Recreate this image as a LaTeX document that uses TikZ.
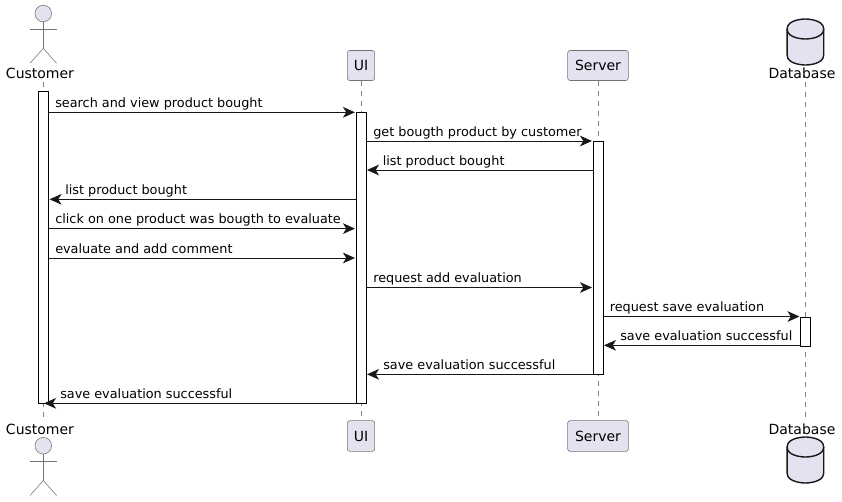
\documentclass[tikz,border=0pt]{standalone}
\usepackage{fontspec}
\setmainfont{DejaVu Sans}
\usetikzlibrary{arrows.meta}
\definecolor{pfill}{HTML}{E2E2F0}
\definecolor{pline}{HTML}{181818}
\tikzset{
  x=0.75pt,y=-0.75pt,
  txt/.style={inner sep=0pt,font=\fontsize{9.62pt}{12pt}\selectfont,text=black},
  msgtext/.style={txt,anchor=base west},
  msg/.style={draw=pline,line width=0.75pt,-{Stealth[length=9pt,width=8pt,inset=2.5pt,fill=pline]},shorten >=0.4pt},
  partbox/.style={draw=pline!60,fill=pfill,line width=0.45pt,rounded corners=1.8pt,minimum height=22.5pt,inner sep=0pt,font=\fontsize{10.5pt}{12pt}\selectfont},
  partlabel/.style={inner sep=0pt,anchor=base,font=\fontsize{10.5pt}{12pt}\selectfont},
  bar/.style={draw=black,fill=white,line width=0.75pt,minimum width=7.5pt,inner sep=0pt,anchor=north},
  lifeline/.style={draw=pline!55,line width=0.4pt,dash pattern=on 3.75pt off 3.75pt},
  actorline/.style={draw=pline!60,line width=0.42pt},
  actorhead/.style={draw=pline!60,fill=pfill,line width=0.42pt},
  dbshape/.style={draw=pline,fill=pfill,line width=1.05pt},
}
\newcommand{\actorfig}[2]{% x, head centre y
  \draw[actorhead] (#1,#2) circle[radius=8.3];
  \draw[actorline] (#1,#2+8.3) -- (#1,#2+34.8);
  \draw[actorline] (#1-13.3,#2+15.8) -- (#1+13.3,#2+15.8);
  \draw[actorline] (#1-13.3,#2+49.8) -- (#1,#2+34.8) -- (#1+13.3,#2+49.8);
}
\newcommand{\dbfig}[2]{% x centre, top y
  \draw[dbshape] (#1-18.3,#2+10) .. controls (#1-18.3,#2) and (#1,#2) .. (#1,#2)
    .. controls (#1,#2) and (#1+18.3,#2) .. (#1+18.3,#2+10)
    -- (#1+18.3,#2+36) .. controls (#1+18.3,#2+46) and (#1,#2+46) .. (#1,#2+46)
    .. controls (#1,#2+46) and (#1-18.3,#2+46) .. (#1-18.3,#2+36) -- cycle;
  \draw[dbshape,fill=none] (#1-18.3,#2+10) .. controls (#1-18.3,#2+20) and (#1,#2+20) .. (#1,#2+20)
    .. controls (#1,#2+20) and (#1+18.3,#2+20) .. (#1+18.3,#2+10);
}
\begin{document}
\begin{tikzpicture}
\useasboundingbox (0,0) rectangle (842,501);
% participant heads and feet
\node[partlabel] (custT) at (40,78) {Customer};
\node[partlabel] (custB) at (40,434.3) {Customer};
\node[partbox,minimum width=20.5pt] (uiT) at (361,65.5) {UI};
\node[partbox,minimum width=20.5pt,minimum height=23pt] (uiB) at (361,436) {UI};
\node[partbox,minimum width=45.5pt] (srvT) at (598,65.5) {Server};
\node[partbox,minimum width=45.5pt,minimum height=23pt] (srvB) at (598,436) {Server};
\node[partlabel] (dbT) at (802,78) {Database};
\node[partlabel] (dbB) at (802,434) {Database};
\actorfig{43.3}{13.5}
\actorfig{43.3}{445.7}
\dbfig{805.4}{19}
\dbfig{805.4}{437}
% lifelines
\coordinate (cT) at (43.3,82); \coordinate (cB) at (43.3,420);
\coordinate (dT) at (805.5,82); \coordinate (dB) at (805.5,420);
\draw[lifeline] (cT) -- (cB);
\draw[lifeline] (uiT.south) -- (uiB.north);
\draw[lifeline] (srvT.south) -- (srvB.north);
\draw[lifeline] (dT) -- (dB);
% activation bars
\node[bar,minimum height=234pt] (barC) at (43.5,91) {};
\node[bar,minimum height=218.25pt] (barU) at (361,112) {};
\node[bar,minimum height=174.75pt] (barS) at (598,141) {};
\node[bar,minimum height=21.75pt] (barD) at (805.5,316.5) {};
% messages
\draw[msg] (barC.east |- 0,112.3) -- (barU.west |- 0,112.3);
\node[msgtext] (m1) at (55,107) {search and view product bought};
\draw[msg] (barU.east |- 0,141) -- (barS.west |- 0,141);
\node[msgtext] (m2) at (373,136) {get bougth product by customer};
\draw[msg] (barS.west |- 0,170) -- (barU.east |- 0,170);
\node[msgtext] (m3) at (382.5,165) {list product bought};
\draw[msg] (barU.west |- 0,199.3) -- (barC.east |- 0,199.3);
\node[msgtext] (m4) at (65,194.3) {list product bought};
\draw[msg] (barC.east |- 0,228.6) -- (barU.west |- 0,228.6);
\node[msgtext] (m5) at (55,223.6) {click on one product was bougth to evaluate};
\draw[msg] (barC.east |- 0,258) -- (barU.west |- 0,258);
\node[msgtext] (m6) at (55,253) {evaluate and add comment};
\draw[msg] (barU.east |- 0,287.5) -- (barS.west |- 0,287.5);
\node[msgtext] (m7) at (373,282.5) {request add evaluation};
\draw[msg] (barS.east |- 0,316.5) -- (barD.west |- 0,316.5);
\node[msgtext] (m8) at (609.5,311.5) {request save evaluation};
\draw[msg] (barD.west |- 0,345.3) -- (barS.east |- 0,345.3);
\node[msgtext] (m9) at (620,340.3) {save evaluation successful};
\draw[msg] (barS.west |- 0,374.3) -- (barU.east |- 0,374.3);
\node[msgtext] (m10) at (383,369.3) {save evaluation successful};
\draw[msg] (barU.west |- 0,403.3) -- (barC.center |- 0,403.3);
\node[msgtext] (m11) at (60,398.3) {save evaluation successful};
\end{tikzpicture}
\end{document}
